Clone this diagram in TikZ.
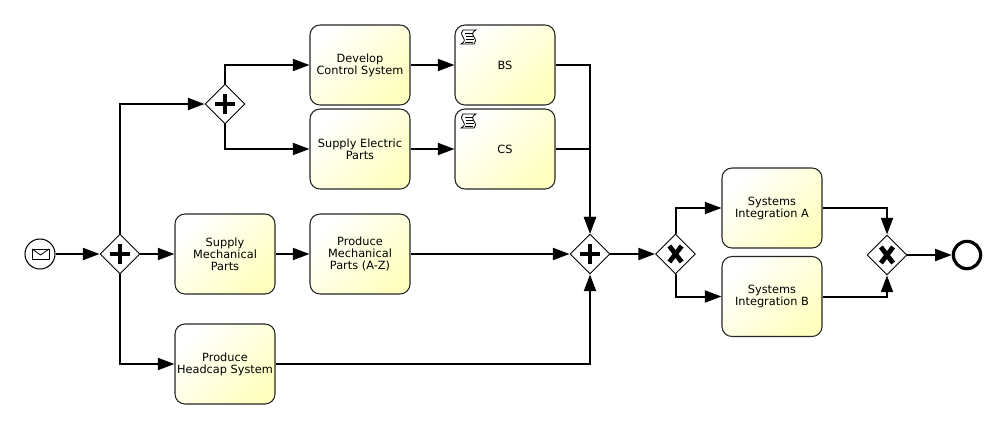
\documentclass[tikz,border=0pt]{standalone}
\usepackage{fontspec}
\setmainfont{DejaVu Sans}
\usetikzlibrary{arrows.meta, shapes.geometric}
\definecolor{taskyellow}{HTML}{FFFFC0}
\tikzset{
  task/.style={draw=black!85, line width=0.8pt, rounded corners=7.5pt, minimum width=75pt, minimum height=60pt,
    inner sep=0pt, align=center, font=\fontsize{8.5}{9}\selectfont, shade, shading=axis, bottom color=white, top color=taskyellow, shading angle=225},
  gate/.style={draw=black, fill=white, diamond, aspect=1, line width=0.7pt, minimum width=30pt, minimum height=30pt, inner sep=0pt},
  plusgate/.style={gate, path picture={
    \draw[line width=2.5pt] (path picture bounding box.center) ++(-7.5pt,0) -- ++(15pt,0);
    \draw[line width=2.5pt] (path picture bounding box.center) ++(0,-7.5pt) -- ++(0,15pt);}},
  xgate/.style={gate, path picture={
    \draw[line width=3.6pt] (path picture bounding box.center) ++(-4.6pt,-6pt) -- ++(9.2pt,12pt);
    \draw[line width=3.6pt] (path picture bounding box.center) ++(-4.6pt,6pt) -- ++(9.2pt,-12pt);}},
  flow/.style={line width=1.5pt, -{Triangle[length=12.5pt,width=9pt]}},
}
\begin{document}
\begin{tikzpicture}[x=0.75pt, y=-0.75pt]
\useasboundingbox (0,0) rectangle (1006,429);
% events
\node[circle, draw=black, line width=0.8pt, minimum size=22.5pt, inner sep=0pt] (start) at (40,254) {};
\node[circle, draw=black, line width=2.4pt, minimum size=20.5pt, inner sep=0pt] (stop) at (967,255) {};
% envelope in the start event
\draw[line width=0.6pt] (32,249) rectangle (49,259);
\draw[line width=0.6pt] (32,249) -- (40.5,255) -- (49,249);
% gateways
\node[plusgate] (main) at (120,254) {};
\node[plusgate] (upper) at (225,104) {};
\node[plusgate] (merge) at (590,254) {};
\node[xgate] (split) at (675.5,254) {};
\node[xgate] (join) at (887,255) {};
% tasks
\node[task] (develop) at (360,65) {Develop\\Control System};
\node[task] (bs) at (505,65) {BS};
\node[task] (electric) at (360,149) {Supply Electric\\Parts};
\node[task] (cs) at (505,149) {CS};
\node[task] (supply) at (225,254) {Supply\\Mechanical\\Parts};
\node[task] (produce) at (360,254) {Produce\\Mechanical\\Parts (A-Z)};
\node[task] (headcap) at (225,364) {Produce\\Headcap System};
\node[task] (sysa) at (772,208) {Systems\\Integration A};
\node[task] (sysb) at (772,296.5) {Systems\\Integration B};
% scroll markers
\foreach \sx/\sy in {461/30, 461/114} {
  \begin{scope}[shift={(\sx,\sy)}, line width=0.6pt]
  \draw (2,0) -- (15,0) .. controls (11,2) and (11,4) .. (13,7) .. controls (15,10) and (15,12) .. (13,14)
    -- (0,14) .. controls (4,12) and (4,10) .. (2,7) .. controls (0,4) and (0,2) .. (2,0) -- cycle;
  \draw (4,3) -- (12,3) (5,6) -- (12,6) (5,9) -- (13,9) (4,12) -- (12,12);
  \end{scope}
}
% sequence flows
\draw[flow] (start) -- (main);
\draw[flow] (main) -- (supply);
\draw[flow] (main.north) |- (upper.west);
\draw[flow] (main.south) |- (headcap.west);
\draw[flow] (upper.north) |- (develop.west);
\draw[flow] (upper.south) |- (electric.west);
\draw[flow] (develop) -- (bs);
\draw[flow] (electric) -- (cs);
\draw[flow] (supply) -- (produce);
\draw[flow] (bs.east) -| (merge.north);
\draw[flow] (cs.east) -| (merge.north);
\draw[flow] (produce) -- (merge);
\draw[flow] (headcap.east) -| (merge.south);
\draw[flow] (merge) -- (split);
\draw[flow] (split.north) |- (sysa.west);
\draw[flow] (split.south) |- (sysb.west);
\draw[flow] (sysa.east) -| (join.north);
\draw[flow] (sysb.east) -| (join.south);
\draw[flow] (join) -- (stop);
\end{tikzpicture}
\end{document}
